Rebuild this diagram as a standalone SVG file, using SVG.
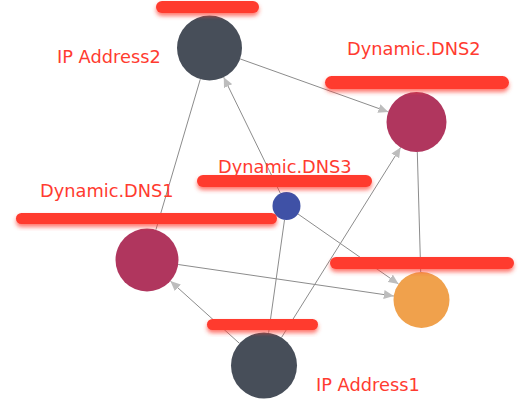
<svg xmlns="http://www.w3.org/2000/svg" width="523" height="410" viewBox="0 0 523 410">
<style>
.edge{stroke:#8c8c8c;stroke-width:1;fill:none}
.lbl{font-family:"DejaVu Sans",Verdana,sans-serif;font-size:17.8px;fill:#ff3b30}
.bar{fill:#ff3a2f;filter:url(#sh)}
.dark{fill:#474e59}
.crim{fill:#b0365e}
</style>
<defs>
<marker id="arr" markerUnits="userSpaceOnUse" markerWidth="11" markerHeight="9" refX="10" refY="4.5" orient="auto">
<path d="M0,0 L10,4.5 L0,9 z" fill="#bdbdbd"/>
</marker>
<filter id="sh" x="-10%" y="-60%" width="120%" height="220%">
<feDropShadow dx="0" dy="3" stdDeviation="2" flood-color="#ff3a2f" flood-opacity="0.7"/>
</filter>
</defs>
<rect width="523" height="410" fill="#ffffff"/>
<g id="connectors">
<line class="edge" x1="240.1" y1="58.9" x2="388.3" y2="111.9" marker-end="url(#arr)"/>
<line class="edge" x1="280.4" y1="193.4" x2="223.7" y2="77.2" marker-end="url(#arr)"/>
<line class="edge" x1="200.3" y1="79.2" x2="155.9" y2="229.8"/>
<line class="edge" x1="178.2" y1="264.5" x2="393.8" y2="296" marker-end="url(#arr)"/>
<line class="edge" x1="298" y1="214" x2="398.5" y2="284" marker-end="url(#arr)"/>
<line class="edge" x1="239.5" y1="343.4" x2="170.4" y2="281.1" marker-end="url(#arr)"/>
<line class="edge" x1="281.5" y1="337.5" x2="400.6" y2="147.4" marker-end="url(#arr)"/>
<line class="edge" x1="417.3" y1="152" x2="420.7" y2="272"/>
<line class="edge" x1="284.5" y1="219.9" x2="268.6" y2="332.8"/>
</g>
<g id="ip-address2"><circle class="dark" cx="209.5" cy="48" r="32.5"/></g>
<g id="dynamic-dns2"><circle class="crim" cx="416.5" cy="122" r="30"/></g>
<g id="dynamic-dns3"><circle fill="#3f51a6" cx="286.5" cy="206" r="14"/></g>
<g id="dynamic-dns1"><circle class="crim" cx="147" cy="260" r="31.5"/></g>
<g id="orange-node"><circle fill="#f0a14c" cx="421.5" cy="300" r="28"/></g>
<g id="ip-address1"><circle class="dark" cx="264" cy="365.5" r="33"/></g>
<g id="bars">
<rect class="bar" x="156" y="1" width="103" height="12" rx="6"/>
<rect class="bar" x="325" y="76" width="184" height="13" rx="6.5"/>
<rect class="bar" x="197" y="175" width="175" height="12" rx="6"/>
<rect class="bar" x="16" y="213" width="261" height="11" rx="5.5"/>
<rect class="bar" x="330" y="257" width="184" height="12" rx="6"/>
<rect class="bar" x="207" y="319" width="111" height="11" rx="5.5"/>
</g>
<g id="labels">
<text class="lbl" x="57" y="63">IP Address2</text>
<text class="lbl" x="347" y="55">Dynamic.DNS2</text>
<text class="lbl" x="218" y="172.7">Dynamic.DNS3</text>
<text class="lbl" x="40" y="196.5">Dynamic.DNS1</text>
<text class="lbl" x="316" y="391">IP Address1</text>
</g>
</svg>
